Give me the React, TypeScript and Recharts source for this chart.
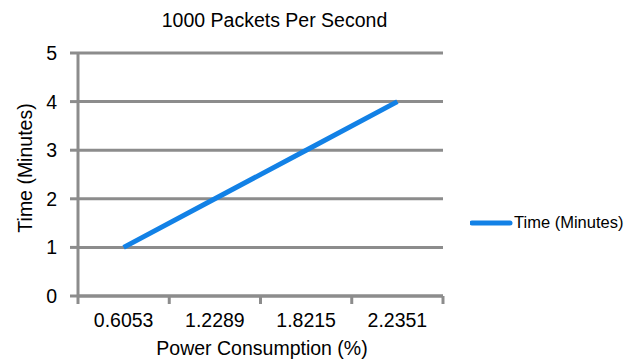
import React from 'react';
import { LineChart, Line, XAxis, YAxis, CartesianGrid, Legend, Label } from 'recharts';

const POWER_LABELS = ['0.6053', '1.2289', '1.8215', '2.2351'];
const TIME_MINUTES = [1, 2, 3, 4];
const Y_TICKS = [0, 1, 2, 3, 4, 5];

const GRID = '#8c8c8c';
const BLUE = '#1281e6';
const FONT = '"Liberation Sans", Arial, sans-serif';

// each point sits in the middle of its category band; band edges carry the tick marks
const data = POWER_LABELS.map((label, i) => ({ pos: i + 0.5, label, time: TIME_MINUTES[i] }));
const xTicks = [0, 0.5, 1, 1.5, 2, 2.5, 3, 3.5, 4];

const XTick = (props: any) => {
    const { x, y, payload } = props;
    const v = payload.value as number;
    if (Number.isInteger(v)) {
        return <line x1={x} x2={x} y1={y} y2={y + 8} stroke={GRID} strokeWidth={3} />;
    }
    const label = POWER_LABELS[Math.floor(v)];
    return (
        <text x={x} y={y + 31} textAnchor="middle" fontSize={19.5} fill="#000" fontFamily={FONT}>
            {label}
        </text>
    );
};

const LegendContent = (props: any) => {
    const entry = (props.payload || [])[0];
    if (!entry) return null;
    return (
        <div style={{ display: 'flex', alignItems: 'center', fontFamily: FONT, fontSize: 16.5, color: '#000' }}>
            <svg width={44} height={10}>
                <line x1={2} x2={40} y1={5} y2={5} stroke={BLUE} strokeWidth={5} strokeLinecap="round" />
            </svg>
            <span>{entry.value}</span>
        </div>
    );
};

export default function App() {
    return (
        <div style={{ position: 'absolute', left: 0, top: 0, width: 637, height: 359, background: '#fff' }}>
            <div
                style={{
                    position: 'absolute', left: 0, top: 9, width: 549, textAlign: 'center',
                    fontFamily: FONT, fontSize: 19.5, color: '#000',
                }}
            >
                1000 Packets Per Second
            </div>
            <LineChart width={637} height={359} data={data} margin={{ top: 53, right: 194, bottom: 0, left: 0 }}>
                <CartesianGrid vertical={false} stroke={GRID} strokeWidth={3} />
                <XAxis
                    type="number"
                    dataKey="pos"
                    domain={[0, 4]}
                    ticks={xTicks}
                    interval={0}
                    height={63}
                    axisLine={{ stroke: GRID, strokeWidth: 3 }}
                    tickLine={false}
                    tickSize={0}
                    tickMargin={0}
                    tick={<XTick />}
                >
                    <Label
                        content={() => (
                            <text x={262} y={355} textAnchor="middle" fontSize={19.5} fill="#000" fontFamily={FONT}>
                                Power Consumption (%)
                            </text>
                        )}
                    />
                </XAxis>
                <YAxis
                    domain={[0, 5]}
                    ticks={Y_TICKS}
                    interval={0}
                    width={78}
                    axisLine={{ stroke: GRID, strokeWidth: 3 }}
                    tickLine={{ stroke: GRID, strokeWidth: 3 }}
                    tickSize={8}
                    tickMargin={13}
                    tick={{ fontSize: 19.5, fill: '#000', fontFamily: FONT }}
                >
                    <Label
                        content={() => (
                            <text
                                x={32}
                                y={168}
                                transform="rotate(-90 32 168)"
                                textAnchor="middle"
                                fontSize={19.5}
                                fill="#000"
                                fontFamily={FONT}
                            >
                                Time (Minutes)
                            </text>
                        )}
                    />
                </YAxis>
                {/* centered vertical layout keeps the legend from reserving plot space */}
                <Legend
                    layout="vertical"
                    align="center"
                    verticalAlign="middle"
                    wrapperStyle={{ left: 470, top: 213, right: 'auto', width: 167 }}
                    content={<LegendContent />}
                />
                <Line
                    type="linear"
                    dataKey="time"
                    name="Time (Minutes)"
                    stroke={BLUE}
                    strokeWidth={5}
                    dot={false}
                    activeDot={false}
                    isAnimationActive={false}
                />
            </LineChart>
        </div>
    );
}
